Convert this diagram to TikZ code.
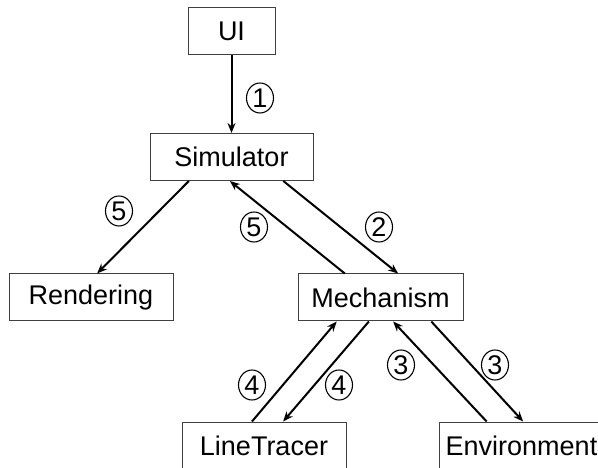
\documentclass[tikz,border=0pt]{standalone}
\usepackage{fontspec}
\setmainfont{Liberation Sans}
\usetikzlibrary{calc,arrows.meta,shapes.geometric}
% attachment points along box edges
\newcommand{\edgeS}[2]{($(#1.south west)!#2!(#1.south east)$)}
\newcommand{\edgeN}[2]{($(#1.north west)!#2!(#1.north east)$)}
\begin{document}
\begin{tikzpicture}[x=1pt,y=-1pt,
  box/.style={draw=black!75,line width=1pt,inner sep=0pt,minimum height=47pt,
    font=\fontsize{27}{30}\selectfont},
  flow/.style={line width=2pt,-{Stealth[length=10pt,width=8pt]}},
  num/.style={ellipse,draw=black,line width=1.1pt,minimum width=27pt,minimum height=30pt,
    inner sep=0pt,font=\fontsize{27}{29}\selectfont}]
\useasboundingbox (0,0) rectangle (598,468);
\clip (0,0) rectangle (598,468);

% boxes
\node[box,minimum width=87pt]  (ui)   at (231.5,31.5)  {UI};
\node[box,minimum width=163pt] (sim)  at (231.5,157)   {Simulator};
\node[box,minimum width=164pt] (ren)  at (91,297.5)    {Rendering};
\node[box,minimum width=165pt] (mech) at (380.5,297.5) {Mechanism};
\node[box,minimum width=164pt] (lt)   at (264,445.5)   {LineTracer};
\node[box,minimum width=165pt] (env)  at (521.5,445.5) {Environment};

% connectors
\draw[flow] (ui) -- (sim);
\draw[flow] \edgeS{sim}{0.24} -- \edgeN{ren}{0.537};
\draw[flow] \edgeN{mech}{0.285} -- \edgeS{sim}{0.49};
\draw[flow] \edgeS{sim}{0.816} -- \edgeN{mech}{0.606};
\draw[flow] \edgeN{lt}{0.427} -- \edgeS{mech}{0.236};
\draw[flow] \edgeS{mech}{0.43} -- \edgeN{lt}{0.616};
\draw[flow] \edgeN{env}{0.29} -- \edgeS{mech}{0.576};
\draw[flow] \edgeS{mech}{0.806} -- \edgeN{env}{0.51};

% step numbers
\node[num] (n1)  at (260,98)  {1};
\node[num] (n5a) at (119,211) {5};
\node[num] (n5b) at (254,227) {5};
\node[num] (n2)  at (379,227) {2};
\node[num] (n4a) at (252,385) {4};
\node[num] (n4b) at (339,385) {4};
\node[num] (n3a) at (401,365) {3};
\node[num] (n3b) at (495,365) {3};
\end{tikzpicture}
\end{document}
